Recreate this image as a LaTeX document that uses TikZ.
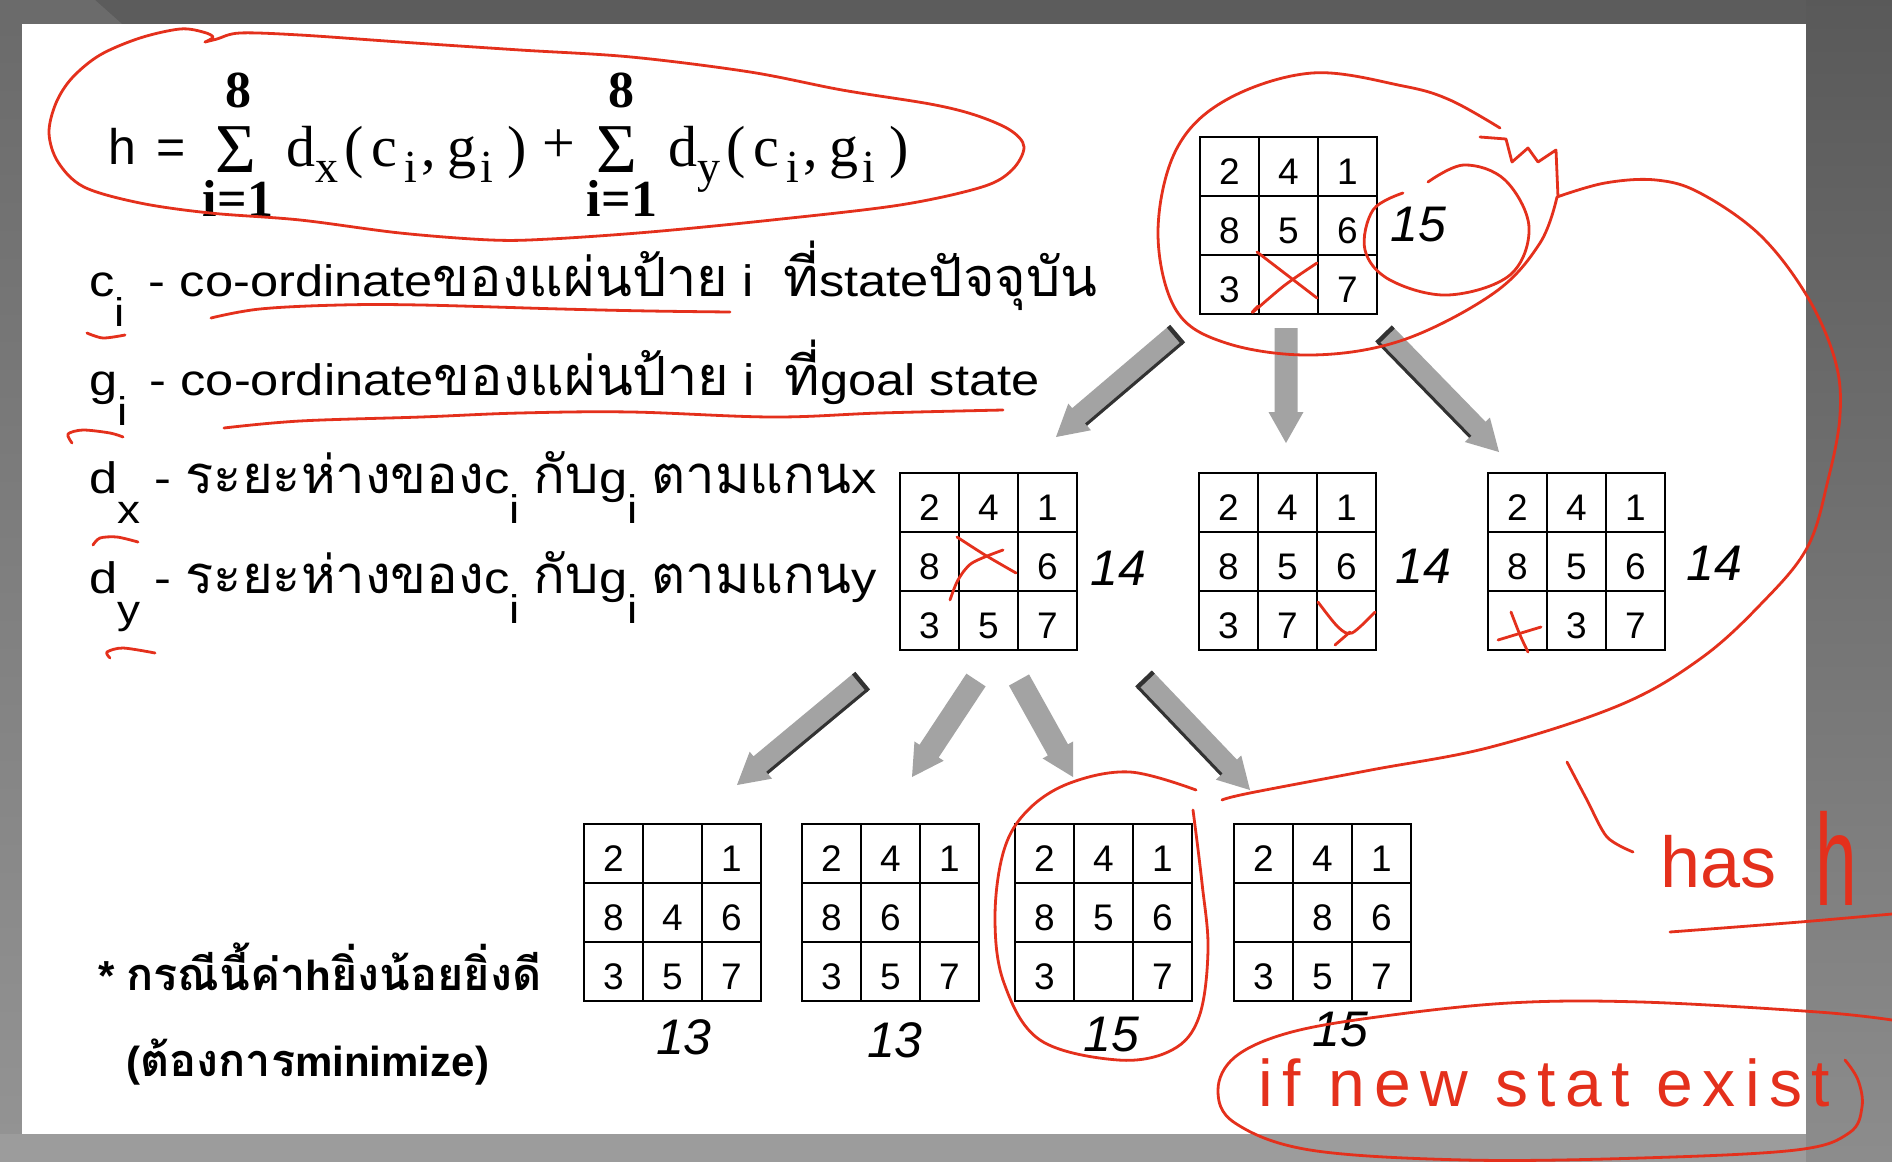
\documentclass[tikz,border=0pt]{standalone}
\usepackage{fontspec}
\usepackage{graphicx}
\setmainfont{Liberation Sans}
\newfontfamily\latinwide[FakeStretch=1.15]{Liberation Sans}
\newfontfamily\thaifont[Script=Thai]{Loma}
\newfontfamily\fml{Liberation Serif}
\usetikzlibrary{calc}
\definecolor{handred}{RGB}{228,48,28}
\definecolor{arrowgray}{RGB}{163,163,163}
\definecolor{arrowdark}{RGB}{50,50,50}
\newcommand\tha[1]{{\fontsize{27pt}{28pt}\thaifont #1}}
\newcommand\thc[1]{{\fontsize{26.3pt}{28pt}\thaifont #1}}
\newcommand\thb[1]{{\fontsize{22.5pt}{25pt}\thaifont\bfseries #1}}
\newcommand\sbs[1]{\raisebox{-15pt}{\fontsize{20pt}{20pt}\selectfont #1}}
\newcommand\fsb[1]{\raisebox{-8pt}{\fontsize{23pt}{23pt}\selectfont #1}}
\newcommand\fterm[1]{d\fsb{#1}\kern3pt(\kern4pt c\kern3.5pt\fsb{i}\kern2pt,\kern6pt g\kern2pt\fsb{i}\kern7pt)}
\newcommand\puzzle[4]{%
  \foreach \val [count=\idx from 0] in {#4} {%
    \pgfmathtruncatemacro\prow{div(\idx,3)}%
    \pgfmathtruncatemacro\pcol{mod(\idx,3)}%
    \node[cell] (#1-\prow\pcol) at ({#2+(\pcol+0.5)*59},{#3+(\prow+0.5)*59}) {\val};%
  }%
}
\newcommand\garrow[3]{%
  \coordinate (#1s) at #2;
  \coordinate (#1e) at #3;
  \coordinate (#1n) at ($(#1e)!15.5pt!(#1s)$);
  \fill[arrowgray] ($(#1s)!5.75pt!90:(#1e)$) -- ($(#1n)!5.75pt!-90:(#1s)$) -- ($(#1n)!8.75pt!-90:(#1s)$) -- (#1e) -- ($(#1n)!8.75pt!90:(#1s)$) -- ($(#1n)!5.75pt!90:(#1s)$) -- ($(#1s)!5.75pt!-90:(#1e)$) -- cycle;
}
\newcommand\gshadow[3]{% name, angle, negative angle
  \draw[arrowdark, line width=1.5pt] ($(#1s)!5pt!#2:(#1e)$) -- ($(#1n)!5pt!#3:(#1s)$);
  \draw[arrowdark, line width=2.2pt] ($(#1s)!5.75pt!90:(#1e)$) -- ($(#1s)!5.75pt!-90:(#1e)$);
}
\tikzset{
  txt/.style={anchor=base west, inner sep=0pt, font=\fontsize{22pt}{25pt}\latinwide},
  cell/.style={draw=black, line width=1.1pt, minimum size=29.5pt, inner sep=0pt, outer sep=0pt,
    text height=18pt, text depth=0pt, font=\fontsize{18.5pt}{20pt}\selectfont},
  hlab/.style={inner sep=0pt, font=\fontsize{25pt}{30pt}\selectfont\itshape},
  hand/.style={draw=handred, line width=1.4pt, line cap=round, line join=round},
  handtxt/.style={text=handred, inner sep=0pt, anchor=base west},
  fnode/.style={inner sep=0pt, anchor=base},
}
\begin{document}
\begin{tikzpicture}[x=0.5pt,y=-0.5pt]
\useasboundingbox (0,0) rectangle (1892,1162);
% background frame
\fill[black!64] (0,0) rectangle (1892,1162);
\fill[black!58] (0,0) -- (95,0) -- (122,24) -- (0,24) -- cycle;
\shade[top color=black!58, bottom color=black!42] (0,24) rectangle (22,1162);
\shade[top color=black!65, bottom color=black!45] (1806,0) rectangle (1892,1162);
\fill[black!39] (0,1134) rectangle (1806,1162);
\fill[white] (22,24) rectangle (1806,1134);

% formula
\node[txt, font=\fontsize{25pt}{28pt}\selectfont] (heq) at (108,164) {h\kern3pt\ =};
\node[fnode, font=\fontsize{35pt}{35pt}\fml] (sum1) at (236,172) {Σ};
\node[fnode, font=\fontsize{26pt}{26pt}\fml\bfseries] (up1) at (238,107) {8};
\node[fnode, font=\fontsize{26pt}{26pt}\fml\bfseries] (lo1) at (238,216) {i=1};
\node[txt, font=\fontsize{29pt}{30pt}\fml] (term1) at (286,166) {\fterm{x}};
\node[fnode, font=\fontsize{29pt}{30pt}\fml] (plus) at (559,162) {+};
\node[fnode, font=\fontsize{35pt}{35pt}\fml] (sum2) at (617,172) {Σ};
\node[fnode, font=\fontsize{26pt}{26pt}\fml\bfseries] (up2) at (621,107) {8};
\node[fnode, font=\fontsize{26pt}{26pt}\fml\bfseries] (lo2) at (622,216) {i=1};
\node[txt, font=\fontsize{29pt}{30pt}\fml] (term2) at (668,166) {\fterm{y}};

% definitions
\node[txt] (l1) at (89,296) {c\sbs{i}\kern12pt- co-ordinate\tha{ของแผ่นป้าย} i\kern8pt\ \tha{ที่}state\tha{ปัจจุบัน}};
\node[txt] (l2) at (89,395) {g\sbs{i}\kern11pt- co-ordinate\tha{ของแผ่นป้าย} i\kern8pt\ \tha{ที่}goal state};
\node[txt] (l3) at (89,493) {d\sbs{x} - \thc{ระยะห่างของ}c\sbs{i} \thc{กับ}g\sbs{i} \thc{ตามแกน}x};
\node[txt] (l4) at (89,593) {d\sbs{y} - \thc{ระยะห่างของ}c\sbs{i} \thc{กับ}g\sbs{i} \thc{ตามแกน}y};
\node[txt, font=\fontsize{21pt}{25pt}\selectfont\bfseries] (n1) at (98,990) {* \thb{กรณีนี้ค่า}h\thb{ยิ่งน้อยยิ่งดี}};
\node[txt, font=\fontsize{21pt}{25pt}\selectfont\bfseries] (n2) at (126,1076) {(\thb{ต้องการ}minimize)};

% puzzles
\puzzle{T}{1200}{137}{2,4,1,8,5,6,3,{},7}
\puzzle{A}{900}{473}{2,4,1,8,{},6,3,5,7}
\puzzle{B}{1199}{473}{2,4,1,8,5,6,3,7,{}}
\puzzle{C}{1488}{473}{2,4,1,8,5,6,{},3,7}
\puzzle{D}{584}{824}{2,{},1,8,4,6,3,5,7}
\puzzle{E}{802}{824}{2,4,1,8,6,{},3,5,7}
\puzzle{F}{1015}{824}{2,4,1,8,5,6,3,{},7}
\puzzle{G}{1234}{824}{2,4,1,{},8,6,3,5,7}

% h values
\node[hlab] (hT) at (1418,225) {15};
\node[hlab] (hA) at (1118,568) {14};
\node[hlab] (hB) at (1423,566) {14};
\node[hlab] (hC) at (1714,563) {14};
\node[hlab] (hD) at (684,1037) {13};
\node[hlab] (hE) at (895,1040) {13};
\node[hlab] (hF) at (1111,1035) {15};
\node[hlab] (hG) at (1340,1030) {15};

% block arrows
\garrow{a1}{(1176,335)}{(1056,437)}
\gshadow{a1}{90}{-90}
\garrow{a2}{(1286,328)}{(1286,443)}
\garrow{a3}{(1385,335)}{(1499,452)}
\gshadow{a3}{-90}{90}
\garrow{b1}{(861,682)}{(737,785)}
\gshadow{b1}{90}{-90}
\garrow{b2}{(976,680)}{(912,777)}
\garrow{b3}{(1019,680)}{(1073,777)}
\garrow{b4}{(1145,680)}{(1250,790)}
\gshadow{b4}{-90}{90}

% red annotations
\draw[hand] plot[smooth, tension=0.55] coordinates {(205,42) (217,39) (240,33) (300,35) (400,42) (520,50) (631,57) (750,72) (842,90) (930,104) (975,115) (1010,130) (1024,147) (1012,170) (982,187) (900,205) (772,220) (650,232) (550,239) (491,240) (400,233) (300,220) (210,213) (140,203) (84,187) (58,162) (49,133) (56,103) (72,78) (100,55) (140,38) (180,29) (203,32) (213,37) (205,42)};
\draw[hand] plot[smooth, tension=0.6] coordinates {(211,318) (260,309) (340,305) (421,305) (561,309) (650,311) (730,312)};
\draw[hand] plot[smooth, tension=0.6] coordinates {(224,428) (300,421) (421,417) (520,413) (631,412) (772,417) (880,413) (1003,410)};
\draw[hand] plot[smooth] coordinates {(87,333) (103,338) (125,335)};
\draw[hand] plot[smooth] coordinates {(72,443) (68,434) (83,430) (110,433) (123,437)};
\draw[hand] plot[smooth] coordinates {(93,545) (100,538) (117,537) (138,542)};
\draw[hand] plot[smooth] coordinates {(110,658) (107,652) (123,648) (155,653)};
% crosses
\draw[hand] (1257,252) -- (1317,298);
\draw[hand] plot[smooth] coordinates {(1317,263) (1285,285) (1253,312) (1258,306)};
\draw[hand] plot[smooth] coordinates {(957,537) (985,555) (1016,573)};
\draw[hand] plot[smooth] coordinates {(1003,550) (972,563) (958,580) (950,600)};
\draw[hand] plot[smooth] coordinates {(1318,602) (1338,627) (1352,633) (1375,612)};
\draw[hand] (1350,632) -- (1335,645);
\draw[hand] plot[smooth] coordinates {(1511,612) (1520,635) (1528,652)};
\draw[hand] (1498,640) -- (1541,627);
% loop around the start state
\draw[hand] plot[smooth, tension=0.6] coordinates {(1500,128) (1450,100) (1403,86) (1312,73) (1226,100) (1176,150) (1158,233) (1176,310) (1226,343) (1312,355) (1403,340) (1494,293) (1540,243) (1557,197)};
\draw[hand] (1480,137) -- (1506,139) -- (1512,162) -- (1528,148) -- (1538,162) -- (1556,150) -- (1558,197);
\draw[hand] plot[smooth, tension=0.6] coordinates {(1557,197) (1605,183) (1656,180) (1700,193) (1760,235) (1807,296) (1835,360) (1840,415) (1828,480) (1807,548) (1760,605) (1700,659) (1620,705) (1491,747) (1371,770) (1250,793) (1222,800)};
\draw[hand] plot[smooth, tension=0.6] coordinates {(1428,182) (1464,165) (1505,180) (1529,227) (1510,275) (1448,295) (1390,280) (1365,250) (1373,210) (1403,193)};
% loop around the repeated state
\draw[hand] plot[smooth, tension=0.6] coordinates {(1196,790) (1130,772) (1070,783) (1028,810) (1004,850) (995,917) (1004,983) (1040,1040) (1118,1060) (1172,1050) (1199,1017) (1208,950) (1202,883) (1193,810)};
% hash note
\draw[hand] plot[smooth] coordinates {(1567,762) (1587,800) (1607,837) (1633,852)};
\node[handtxt, font=\fontsize{36pt}{40pt}\selectfont] (has) at (1660,887) {has};
\node[handtxt, font=\fontsize{50pt}{56pt}\selectfont] (hbig) at (1815,905) {\scalebox{0.75}[1.3]{h}};
\draw[hand] plot[smooth] coordinates {(1670,932) (1800,922) (1892,914)};
% new state note
\node[handtxt, font=\fontsize{33pt}{36pt}\selectfont\addfontfeature{LetterSpace=14}] (ifnew) at (1258,1106) {if new stat exist};
\draw[hand] plot[smooth, tension=0.6] coordinates {(1892,1020) (1818,1012) (1641,1002) (1509,1003) (1377,1017) (1288,1033) (1235,1057) (1218,1090) (1235,1123) (1310,1150) (1465,1160) (1641,1158) (1796,1150) (1849,1133) (1862,1107) (1858,1080) (1845,1060)};
\end{tikzpicture}
\end{document}
